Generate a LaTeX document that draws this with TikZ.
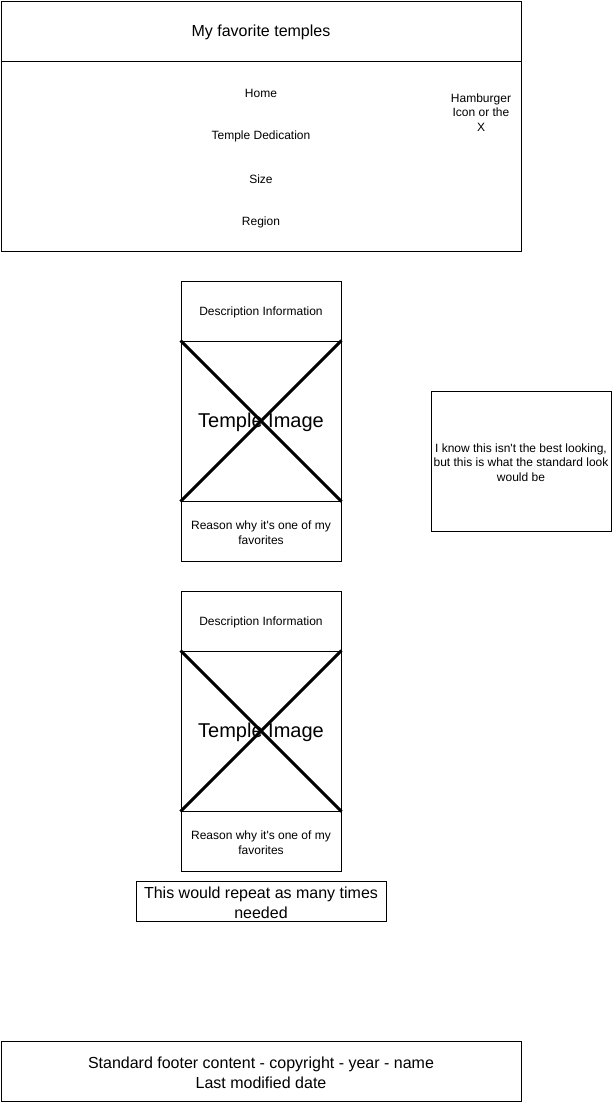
\documentclass[tikz,border=0pt]{standalone}
\usepackage{fontspec}
\setmainfont{Liberation Sans}
\newcommand{\apos}{\textquotesingle}
\begin{document}
\begin{tikzpicture}[x=1pt,y=-1pt,
  box/.style={draw=black,line width=1pt,inner sep=0pt,align=center},
  label/.style={inner sep=0pt,align=center,yshift=-1.5pt},
  txt/.style={label,font=\fontsize{12}{14.5}\selectfont},
  big/.style={label,font=\fontsize{16}{20}\selectfont},
  huge/.style={label,font=\fontsize{20}{24}\selectfont},
  xline/.style={line width=3pt,draw=black}]
\useasboundingbox (0,0) rectangle (614,1104);

% header bar and navigation panel
\node[box,minimum width=520pt,minimum height=60pt] (title) at (261,31) {};
\node[big] (titletext) at (title.center) {My favorite temples};
\node[box,minimum width=520pt,minimum height=190pt] (nav) at (261,156) {};
\node[txt] (home) at (261,92) {Home};
\node[txt] (dedication) at (261,135) {Temple Dedication};
\node[txt] (size) at (261,178) {Size};
\node[txt] (region) at (261,221) {Region};
\node[txt] (burger) at (481,111) {Hamburger\\Icon or the\\X};

% first temple card
\node[box,minimum width=160pt,minimum height=60pt] (descA) at (261,311) {};
\node[txt] (descAtext) at (descA.center) {Description Information};
\node[box,minimum width=160pt,minimum height=160pt] (imgA) at (261,421) {};
\draw[xline] (imgA.north west) -- (imgA.south east);
\draw[xline] (imgA.north east) -- (imgA.south west);
\node[huge] (imgAlabel) at (imgA.center) {Temple Image};
\node[box,minimum width=160pt,minimum height=60pt] (reasonA) at (261,531) {};
\node[txt] (reasonAtext) at (reasonA.center) {Reason why it\apos s one of my\\favorites};

% side note
\node[box,minimum width=180pt,minimum height=140pt] (note) at (521,461) {};
\node[txt] (notetext) at (note.center) {I know this isn\apos t the best looking,\\but this is what the standard look\\would be};

% second temple card
\node[box,minimum width=160pt,minimum height=60pt] (descB) at (261,621) {};
\node[txt] (descBtext) at (descB.center) {Description Information};
\node[box,minimum width=160pt,minimum height=160pt] (imgB) at (261,731) {};
\draw[xline] (imgB.north west) -- (imgB.south east);
\draw[xline] (imgB.north east) -- (imgB.south west);
\node[huge] (imgBlabel) at (imgB.center) {Temple Image};
\node[box,minimum width=160pt,minimum height=60pt] (reasonB) at (261,841) {};
\node[txt] (reasonBtext) at (reasonB.center) {Reason why it\apos s one of my\\favorites};

% repeat hint
\node[box,minimum width=250pt,minimum height=40pt] (repeat) at (261,901) {};
\node[big] (repeattext) at (repeat.center) {This would repeat as many times\\needed};

% footer
\node[box,minimum width=520pt,minimum height=60pt] (footer) at (261,1071) {};
\node[big] (footertext) at (footer.center) {Standard footer content - copyright - year - name\\Last modified date};
\end{tikzpicture}
\end{document}
